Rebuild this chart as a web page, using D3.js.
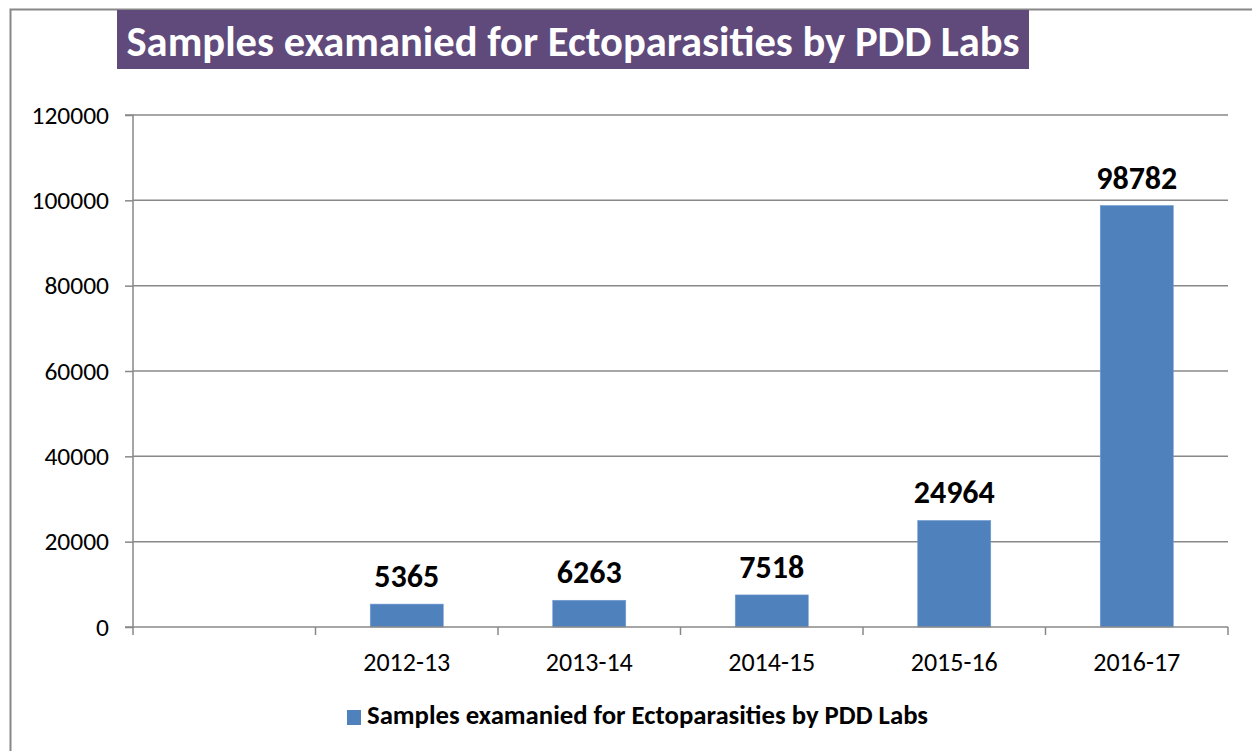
<!DOCTYPE html>
<html><head><meta charset="utf-8">
<script src="https://cdn.jsdelivr.net/npm/d3@7"></script>
<style>html,body{margin:0;padding:0;background:#fff;}svg{display:block;font-family:Carlito,Lato,"Open Sans",sans-serif;}</style>
</head><body>
<svg id="c" width="1252" height="751"></svg>
<script>
const title = "Samples examanied for Ectoparasities by PDD Labs";
const seriesName = "Samples examanied for Ectoparasities by PDD Labs";
const categories = ["", "2012-13", "2013-14", "2014-15", "2015-16", "2016-17"];
const values = [null, 5365, 6263, 7518, 24964, 98782];
const yTicks = [0, 20000, 40000, 60000, 80000, 100000, 120000];

const svg = d3.select("#c");
const grey = "#888888";

function fit(sel, w) {
  const n = sel.node();
  const fs = parseFloat(sel.attr("font-size"));
  const cur = n.getComputedTextLength();
  sel.attr("font-size", (fs * w / cur).toFixed(2));
}

// outer border
svg.append("path").attr("d", "M10.5,760 V9.5 H1260").attr("fill", "none").attr("stroke", grey).attr("stroke-width", 2);

// title
svg.append("rect").attr("x", 117).attr("y", 10).attr("width", 912).attr("height", 59).attr("fill", "#604a7b");
const t = svg.append("text").attr("x", 573).attr("y", 56).attr("text-anchor", "middle")
  .attr("fill", "#fff").attr("font-weight", "bold").attr("font-size", 38).text(title);
fit(t, 893);

const x = d3.scaleBand().domain(categories).range([133, 1228]).padding(0);
const y = d3.scaleLinear().domain([0, 120000]).range([627, 115]);

// gridlines
svg.append("g").selectAll("line").data(yTicks.filter(d => d > 0)).join("line")
  .attr("x1", 133).attr("x2", 1228).attr("y1", d => y(d)).attr("y2", d => y(d))
  .attr("stroke", grey).attr("stroke-width", 1.5);

// y axis
const ya = svg.append("g").attr("transform", "translate(133,0)")
  .call(d3.axisLeft(y).tickValues(yTicks).tickSize(8).tickPadding(16).tickFormat(d3.format("d")));
ya.select(".domain").attr("stroke", grey).attr("stroke-width", 1.5).attr("d", `M-8,${y(120000)}H0V${y(0)}H-8`);
ya.selectAll(".tick line").attr("stroke", grey).attr("stroke-width", 1.5);
ya.selectAll(".tick text").attr("font-size", 25.5).attr("fill", "#000").attr("font-family", "Carlito,Lato,sans-serif");

// bars
const bw = x.bandwidth() * 0.4;
const data = categories.map((c, i) => ({c, v: values[i]})).filter(d => d.v != null);
svg.append("g").selectAll("rect").data(data).join("rect")
  .attr("x", d => x(d.c) + x.bandwidth() / 2 - bw / 2).attr("width", bw)
  .attr("y", d => y(d.v)).attr("height", d => y(0) - y(d.v))
  .attr("fill", "#4f81bd").attr("stroke", "#6f9bd1").attr("stroke-width", 0.6);

// x axis
svg.append("line").attr("x1", 133).attr("x2", 1228).attr("y1", y(0)).attr("y2", y(0)).attr("stroke", grey).attr("stroke-width", 1.5);
const bounds = categories.map(c => x(c)).concat([x.range()[1]]);
svg.append("g").selectAll("line").data(bounds).join("line")
  .attr("x1", d => d).attr("x2", d => d).attr("y1", y(0)).attr("y2", y(0) + 8)
  .attr("stroke", grey).attr("stroke-width", 1.5);
svg.append("g").selectAll("text").data(categories.filter(c => c)).join("text")
  .attr("x", d => x(d) + x.bandwidth() / 2).attr("y", 671).attr("text-anchor", "middle")
  .attr("font-size", 26).attr("fill", "#000").text(d => d);

// data labels
svg.append("g").selectAll("text").data(data).join("text")
  .attr("x", d => x(d.c) + x.bandwidth() / 2).attr("y", d => y(d.v) - 17).attr("text-anchor", "middle")
  .attr("font-size", 32).attr("font-weight", "bold").attr("fill", "#000").text(d => d.v);

// legend
svg.append("rect").attr("x", 347).attr("y", 710).attr("width", 14).attr("height", 15).attr("fill", "#4f81bd");
const lt = svg.append("text").attr("x", 367).attr("y", 724).attr("font-size", 20).attr("font-weight", "bold")
  .attr("fill", "#000").text(seriesName);
fit(lt, 561);
</script>
</body></html>
